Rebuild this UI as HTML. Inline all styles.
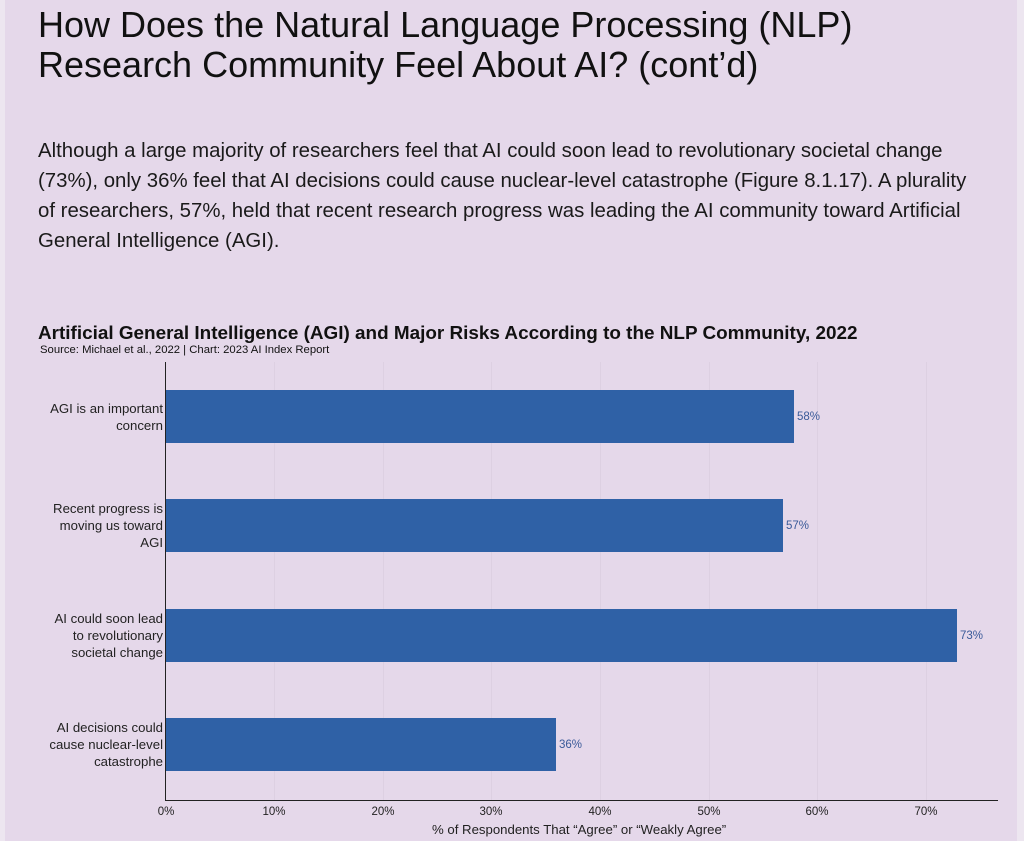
<!DOCTYPE html>
<html><head><meta charset="utf-8"><style>
html,body{margin:0;padding:0;}
body{width:1024px;height:841px;background:#e5d8ea;position:relative;overflow:hidden;font-family:"Liberation Sans",sans-serif;color:#111;}
.t{position:absolute;left:38px;top:5px;font-size:36px;line-height:40px;color:#111;white-space:nowrap;}
.p{position:absolute;left:38px;top:136px;font-size:20.4px;line-height:30px;white-space:nowrap;color:#1a1a1a;}
.ct{position:absolute;left:38px;top:323px;font-size:18.9px;font-weight:bold;white-space:nowrap;}
.src{position:absolute;left:40px;top:344px;font-size:11.3px;white-space:nowrap;}
.lab{position:absolute;right:861px;text-align:right;font-size:13.2px;line-height:17px;color:#222;white-space:nowrap;}
.bar{position:absolute;left:166px;height:53px;background:#2f61a6;}
.v{position:absolute;font-size:11.5px;color:#3a5a99;}
.tk{position:absolute;top:806px;font-size:11.5px;color:#222;transform:translateX(-50%);}
.g{position:absolute;top:362px;height:438px;width:1px;background:#ddd0e2;}
</style></head><body>
<div style="position:absolute;left:0;top:0;width:5px;height:841px;background:#ede6f0"></div>
<div style="position:absolute;left:1017px;top:0;width:7px;height:841px;background:#ede6f0"></div>
<div class="t">How Does the Natural Language Processing (NLP)<br>Research Community Feel About AI? (cont’d)</div>
<div class="p">Although a large majority of researchers feel that AI could soon lead to revolutionary societal change<br>(73%), only 36% feel that AI decisions could cause nuclear-level catastrophe (Figure 8.1.17). A plurality<br>of researchers, 57%, held that recent research progress was leading the AI community toward Artificial<br>General Intelligence (AGI).</div>
<div class="ct">Artificial General Intelligence (AGI) and Major Risks According to the NLP Community, 2022</div>
<div class="src">Source: Michael et al., 2022 | Chart: 2023 AI Index Report</div>
<div class="g" style="left:274px"></div><div class="g" style="left:383px"></div><div class="g" style="left:491px"></div><div class="g" style="left:600px"></div><div class="g" style="left:709px"></div><div class="g" style="left:817px"></div><div class="g" style="left:926px"></div>
<div style="position:absolute;left:165px;top:362px;width:1px;height:439px;background:#222"></div>
<div style="position:absolute;left:165px;top:800px;width:833px;height:1px;background:#222"></div>
<div class="lab" style="top:400px">AGI is an important<br>concern</div>
<div class="lab" style="top:500px">Recent progress is<br>moving us toward<br>AGI</div>
<div class="lab" style="top:610px">AI could soon lead<br>to revolutionary<br>societal change</div>
<div class="lab" style="top:719px">AI decisions could<br>cause nuclear-level<br>catastrophe</div>
<div class="bar" style="top:390px;width:628px"></div>
<div class="bar" style="top:499px;width:617px"></div>
<div class="bar" style="top:609px;width:791px"></div>
<div class="bar" style="top:718px;width:390px"></div>
<div class="v" style="left:797px;top:411px">58%</div>
<div class="v" style="left:786px;top:520px">57%</div>
<div class="v" style="left:960px;top:630px">73%</div>
<div class="v" style="left:559px;top:739px">36%</div>
<div class="tk" style="left:166px">0%</div><div class="tk" style="left:274px">10%</div><div class="tk" style="left:383px">20%</div><div class="tk" style="left:491px">30%</div><div class="tk" style="left:600px">40%</div><div class="tk" style="left:709px">50%</div><div class="tk" style="left:817px">60%</div><div class="tk" style="left:926px">70%</div>
<div style="position:absolute;left:432px;top:822px;font-size:13.2px;color:#222;white-space:nowrap">% of Respondents That “Agree” or “Weakly Agree”</div>
</body></html>
